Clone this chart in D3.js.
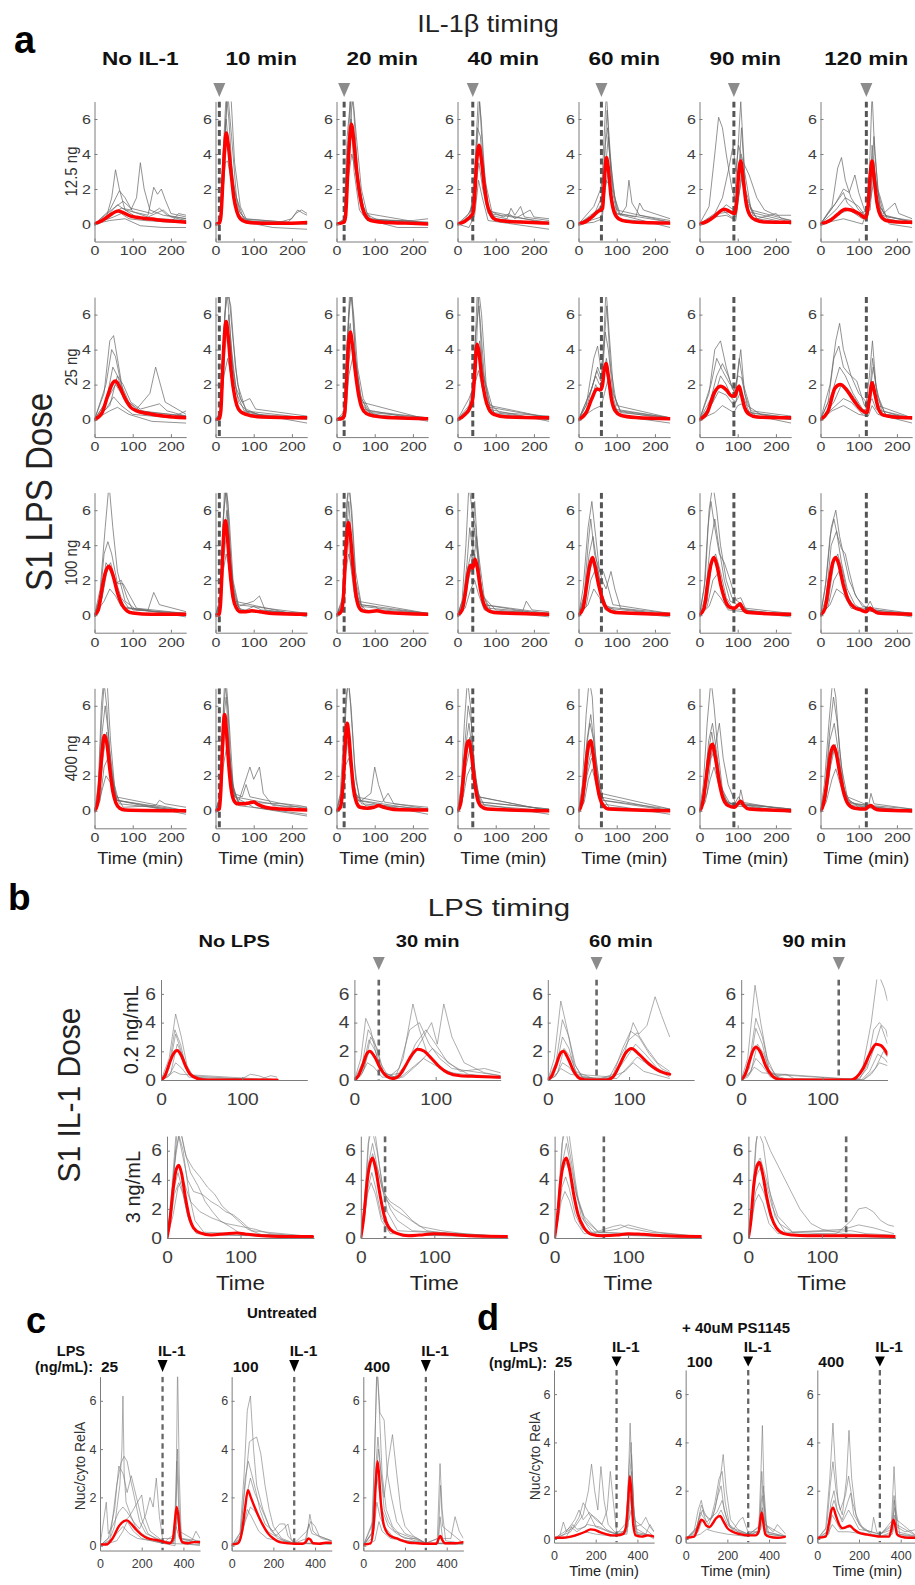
<!DOCTYPE html>
<html>
<head>
<meta charset="utf-8">
<script src="https://cdn.jsdelivr.net/npm/d3@7"></script>
<style>
  body { margin: 0; background: #fff; }
  svg { display: block; }
  text { font-family: "Liberation Sans", Arial, Helvetica, sans-serif; }
</style>
</head>
<body>
<svg id="fig" width="915" height="1585"></svg>
<script>
// ---------------- Panel a: IL-1β timing × LPS dose ----------------
const aTimings = ["No IL-1", "10 min", "20 min", "40 min", "60 min", "90 min", "120 min"];
const aIL1Times = [null, 10, 20, 40, 60, 90, 120];
const aDoses = ["12.5 ng", "25 ng", "100 ng", "400 ng"];
const aXTicks = [0, 100, 200];
const aYTicks = [0, 2, 4, 6];

// population mean traces, flat [t, v, t, v, ...] per column
const aRed125 = [
  [0,0,20,.2,40,.5,55,.7,62,.75,75,.65,95,.45,120,.35,150,.28,180,.2,210,.15,240,.1],
  [0,0,10,.05,14,.4,20,2.8,24,4.4,28,5.2,33,4.6,40,3.1,48,1.5,56,.7,65,.3,80,.12,120,.05,200,.05,240,.08],
  [0,0,20,.1,24,.5,30,3.2,35,5.0,39,5.7,45,4.8,52,3.2,60,1.8,68,.9,78,.4,90,.2,120,.1,180,.05,240,0],
  [0,0,15,.1,25,.25,35,.45,40,.6,45,1.6,50,3.5,56,4.5,62,3.8,70,2.2,78,1.1,88,.5,100,.25,130,.15,180,.1,240,.05],
  [0,0,20,.15,35,.4,50,.7,58,.8,63,.9,67,2.2,73,3.8,78,3.2,85,1.6,93,.7,105,.3,125,.15,170,.08,240,.05],
  [0,0,20,.15,40,.45,55,.75,65,.85,80,.7,92,.6,97,1.2,103,3.0,108,3.6,114,2.6,122,1.2,132,.5,145,.25,170,.12,240,.1],
  [0,0,25,.2,45,.55,65,.85,80,.8,100,.6,118,.35,124,.9,130,2.8,135,3.6,140,2.7,148,1.2,158,.45,172,.2,200,.12,240,.1]
];
const aRed25 = [
  [0,0,20,.4,35,1.4,48,2.1,55,2.2,65,1.9,80,1.2,95,.7,110,.5,140,.35,180,.2,240,.1],
  [0,0,10,.05,14,.5,19,3,24,5.0,28,5.6,33,4.8,40,3.0,48,1.6,56,.8,66,.45,80,.3,120,.15,240,.1],
  [0,0,18,.1,22,.5,27,2.5,32,4.5,36,5.0,42,4.2,50,2.6,58,1.4,66,.7,78,.35,100,.2,150,.1,240,.05],
  [0,0,20,.3,35,.8,40,1.2,45,2.6,51,4.3,56,3.9,63,2.5,72,1.3,82,.6,95,.3,130,.15,240,.1],
  [0,0,20,.4,35,1.2,48,1.75,58,1.7,63,2.0,67,2.8,72,3.2,78,2.5,86,1.2,96,.5,110,.25,150,.12,240,.05],
  [0,0,20,.4,38,1.5,55,1.9,70,1.7,85,1.35,93,1.35,98,1.7,104,1.9,110,1.4,118,.7,130,.3,150,.15,240,.1],
  [0,0,20,.5,38,1.8,52,2.0,68,1.7,90,1.0,110,.5,122,.4,128,1.2,135,2.1,142,1.5,152,.6,165,.25,190,.15,240,.1]
];
const aRed100 = [
  [0,0,10,.3,18,1.3,28,2.4,38,2.8,48,2.3,60,1.3,72,.6,85,.25,100,.12,150,.05,240,.05],
  [0,0,10,.05,13,.6,18,3.0,22,4.8,26,5.4,31,4.5,38,2.5,46,1.0,55,.4,65,.2,80,.2,95,.25,115,.2,150,.1,240,.05],
  [0,0,12,.2,18,1.0,24,3.5,28,4.8,31,5.3,36,4.6,43,2.8,50,1.3,58,.5,68,.25,85,.2,105,.25,130,.15,240,.05],
  [0,0,12,.3,20,1.2,28,2.4,34,2.85,40,2.7,46,3.2,52,2.7,60,1.5,68,.7,78,.3,95,.15,240,.05],
  [0,0,12,.4,22,1.8,30,2.9,37,3.3,44,2.7,52,1.8,60,1.1,68,.6,78,.3,95,.15,240,.05],
  [0,0,12,.4,22,1.9,30,2.9,38,3.3,46,2.8,56,1.7,68,.8,80,.45,92,.4,100,.55,106,.65,114,.35,128,.15,240,.05],
  [0,0,12,.4,22,1.8,32,3.0,40,3.3,48,2.9,60,1.7,72,.9,88,.45,105,.3,120,.2,128,.4,136,.3,150,.12,240,.05]
];
const aRed400 = [
  [0,0,8,.4,14,1.8,20,3.4,26,4.3,32,3.9,40,2.4,48,1.1,56,.45,66,.15,80,.05,240,0],
  [0,0,10,.1,14,1.2,18,3.5,21,5.0,24,5.5,28,4.7,34,2.8,40,1.4,48,.6,58,.4,72,.4,88,.45,100,.5,112,.35,130,.2,170,.1,240,.05],
  [0,0,10,.2,16,1.2,20,2.6,24,4.3,28,5.0,32,4.4,38,2.8,44,1.3,52,.5,62,.2,80,.15,98,.2,110,.3,124,.2,150,.08,240,.05],
  [0,0,8,.4,14,1.6,20,3.0,26,3.9,30,4.0,36,3.3,44,1.8,52,.7,62,.25,78,.1,240,0],
  [0,0,8,.4,15,1.6,22,3.1,28,3.9,32,4.0,38,3.3,46,1.9,55,.8,65,.3,80,.1,240,0],
  [0,0,8,.4,16,1.6,24,3.0,30,3.7,34,3.8,42,3.0,52,1.6,62,.7,75,.3,92,.2,102,.45,108,.55,116,.3,130,.1,240,0],
  [0,0,8,.4,16,1.5,26,3.2,34,3.7,40,3.4,50,2.2,60,1.1,72,.4,90,.15,118,.1,126,.25,132,.3,140,.15,155,.05,240,0]
];

// single-cell traces, one list of flat traces per column
const aGray125 = [
  [[0,0,30,.3,45,1.5,55,3.1,65,2.0,80,.8,110,.4,240,.2],
   [0,0,40,.5,70,.9,95,.8,110,1.5,120,3.5,130,2.0,145,.8,180,.5,240,.3],
   [0,0,30,.4,60,1.1,80,.8,140,.5,155,2.1,165,1.7,175,2.0,185,1.4,200,.6,240,.4],
   [0,0,40,.8,65,1.9,80,1.5,100,.7,140,.4,180,.8,200,.4,240,.2],
   [0,0,50,.4,70,.6,90,.3,130,.2,200,.1,220,.6,240,.5],
   [0,0,40,.2,80,.3,120,-.1,180,-.2,240,-.2],
   [0,0,50,.9,75,1.3,95,.9,150,.6,170,.9,190,.5,240,.3]],
  [[0,0,12,.1,20,4,28,7.5,35,6,45,2.5,60,.8,80,.2,150,0,200,.3,215,.8,230,.6,240,.5],
   [0,0,14,.2,22,3,30,7.5,40,7.5,50,3.5,65,1,80,.3,240,0],
   [0,0,12,.1,20,2,30,5,38,4,50,2,65,.6,90,.1,240,0],
   [0,0,15,.3,25,3.5,32,3.6,45,2,60,.6,80,.1,150,-.2,240,-.3],
   [0,0,12,.2,20,4,28,6,36,4,48,1.4,62,.3,190,.1,210,.6,225,.8,240,.6],
   [0,0,14,.2,24,5,32,7.5,42,5,55,1.5,75,.2,240,0]],
  [[0,0,20,.1,27,3,37,7.5,45,6.5,55,3,70,1,90,.3,240,0],
   [0,0,22,.2,32,4,42,7.5,52,5,65,2,80,.6,240,0],
   [0,0,20,.2,30,4.5,38,6,48,3.5,60,1.5,80,.3,240,.1],
   [0,0,22,.1,30,2.5,40,4,50,3,65,1,90,.2,160,-.2,240,-.2],
   [0,0,20,.3,28,5,36,7,46,3,60,.8,80,.2,200,.2,240,.3],
   [0,0,24,.3,34,5,44,5.5,55,2.5,75,.6,110,.2,240,.1]],
  [[0,0,20,.3,35,.8,45,3,55,7.5,62,6,72,2.5,90,.7,240,0],
   [0,0,30,.3,42,1.5,52,5.5,60,5,70,2,85,.5,130,.3,140,.9,150,.5,165,1.0,175,.4,240,.2],
   [0,0,30,.6,40,1.2,48,3,57,4.5,66,2.5,80,.8,120,.4,135,.6,150,.3,190,.8,200,.4,240,.3],
   [0,0,38,.3,47,2,56,3.5,66,2,80,.6,240,.1],
   [0,0,40,.4,50,4,58,7,66,4,80,1,100,.3,240,0],
   [0,0,30,-.2,45,.5,55,2.5,65,1.5,80,.2,240,-.3]],
  [[0,0,40,.5,60,1.5,67,5,73,7.5,80,5,90,2,105,.6,240,.1],
   [0,0,40,1,58,2,66,3,75,6.5,82,4,95,1.5,110,.5,125,1,132,2.5,140,1.2,160,.5,240,.2],
   [0,0,45,.6,62,1.2,70,3,78,5,88,2,100,.6,150,.4,160,1.2,170,.8,240,.3],
   [0,0,30,.2,60,.4,70,2,78,3,88,1.5,100,.3,240,0],
   [0,0,50,.8,62,1,70,4.5,76,5.5,85,3,100,.8,240,.1],
   [0,0,40,.1,62,.3,72,2.5,82,2.2,95,.6,240,-.2]],
  [[0,0,25,1,40,4,50,6.1,60,5.5,70,4,85,2,92,1.5,100,4,108,7,118,3,135,.8,240,.2],
   [0,0,40,.6,60,1.5,75,3,88,4.5,95,3,102,4.5,115,3.5,130,2.8,150,1.5,170,.8,200,.5,240,.5],
   [0,0,40,.5,70,1.1,90,.8,100,2,108,4,118,2,130,.7,240,.1],
   [0,0,50,.6,80,.7,95,.4,103,3,110,5.5,120,2,140,.5,240,0],
   [0,0,30,.3,60,.8,90,.3,102,1.5,112,2.8,125,1.2,150,.3,240,0],
   [0,0,40,.4,70,.5,95,.2,105,2,112,3.5,122,1.5,150,.3,200,.6,215,.3,240,.2]],
  [[0,0,30,1,45,3.2,55,3.8,65,2.5,80,1.5,100,.8,120,.4,128,3,135,7.5,142,4,155,1,175,.4,240,.2],
   [0,0,40,1.2,60,2,75,1.8,90,2.8,100,1.8,115,.8,125,.5,132,2.5,140,5,150,2,170,.5,240,.1],
   [0,0,40,.8,65,1.5,80,1.3,100,1.0,120,.4,130,1.5,138,3.5,148,2,165,.6,195,1.2,205,.6,240,.3],
   [0,0,50,.6,75,.8,110,.3,128,1,135,4.5,145,2.5,160,.5,240,.1],
   [0,0,50,1.5,60,1.8,70,1.2,100,.6,130,.8,137,3,150,1.2,175,.3,240,0],
   [0,0,60,.3,110,0,132,1.5,140,2.5,155,.8,180,0,240,-.2]]
];
const aGray25 = [
  [[0,0,25,1.5,40,4.5,50,4.8,60,3.5,75,1.5,100,.6,150,.4,240,.2],
   [0,0,30,2,45,4,55,3.6,70,2,90,1,120,.5,240,.2],
   [0,0,30,1,48,3,60,2.5,80,1.2,110,.6,145,1.5,160,3.0,170,2.2,185,1,240,.3],
   [0,0,35,1.2,55,2,70,1.5,90,.8,130,.3,240,.1],
   [0,0,30,.6,50,1.3,70,.8,100,.3,200,.1,240,.5],
   [0,0,40,.8,60,2.5,75,2,95,1,120,.6,170,.9,190,.5,240,.2],
   [0,0,40,.5,60,.7,90,.3,150,-.1,240,-.2]],
  [[0,0,12,.2,20,4,28,7.5,40,6.5,52,3,65,1.2,80,.6,110,.3,240,.1],
   [0,0,13,.3,22,5,30,7.5,42,4,55,1.5,75,.5,240,.1],
   [0,0,12,.1,20,3,28,5.5,38,4.5,50,2,70,1,90,1.2,105,.6,240,.2],
   [0,0,15,.5,25,4,35,6,45,3,60,1,90,.3,240,0],
   [0,0,12,.2,22,2.5,32,3.5,45,2,60,.5,240,-.2],
   [0,0,14,.4,24,6,34,7.5,44,5,58,2,80,.5,130,.2,240,.1]],
  [[0,0,20,.2,27,4,35,7.5,45,6,55,3,70,1.2,90,.4,240,.1],
   [0,0,22,.3,30,5,38,7.5,48,4,60,1.5,80,.5,240,.1],
   [0,0,22,.2,30,3,40,4.5,52,3,65,1.2,90,.3,240,0],
   [0,0,20,.3,28,4.5,36,5.5,46,3,62,1,85,.4,120,.2,240,.1],
   [0,0,24,.2,32,2.5,42,3.5,55,2,70,.6,240,-.1],
   [0,0,22,.5,32,6,40,7.5,50,3.5,65,1,240,0]],
  [[0,0,25,.5,38,1.2,45,3.5,52,7.5,60,5.5,70,2.5,85,.8,240,.1],
   [0,0,30,.8,40,2,48,5,56,6.5,65,3,80,1,110,.4,240,.2],
   [0,0,30,.4,42,1.5,50,3.5,58,4.5,68,2.5,85,.7,240,.1],
   [0,0,35,.6,45,2.5,52,4,60,3,75,1,100,.3,240,0],
   [0,0,30,1.2,45,2.0,55,2.8,65,1.8,80,.6,240,-.1],
   [0,0,40,.8,48,3,55,7.5,63,6,75,2,95,.4,240,0]],
  [[0,0,20,.8,40,3.5,50,4.2,58,3,64,3.5,72,7.5,80,5,92,1.5,110,.4,240,.1],
   [0,0,30,1.5,45,2.5,55,2,62,2.2,70,5,78,4,90,1.5,110,.5,240,.1],
   [0,0,30,.8,45,2,55,1.6,65,2.5,73,3.5,85,1.8,100,.5,240,0],
   [0,0,25,1,40,2.2,50,3,60,2.4,70,3,80,2,95,.6,240,.1],
   [0,0,40,.6,60,.8,68,1.5,76,2.2,88,1,110,.2,240,-.2],
   [0,0,35,1.8,48,2.8,58,2.2,66,4,74,6.5,84,3,100,.8,240,.1]],
  [[0,0,25,1.5,40,4,55,4.5,70,3,85,1.8,95,1.5,102,3,108,4,118,1.5,135,.4,240,.1],
   [0,0,30,1.2,45,2.5,60,3.2,75,2.5,90,1.6,100,2.5,110,2.4,125,.8,160,.3,240,.1],
   [0,0,35,1,55,2.5,70,2,85,1.2,95,1,104,2,112,1.5,130,.4,240,0],
   [0,0,30,.8,50,1.6,70,1.4,90,.8,100,1.2,108,1.6,120,.6,150,.2,240,0],
   [0,0,40,.4,60,.8,90,.4,100,.8,110,.9,130,.3,240,-.2],
   [0,0,30,2,45,3.5,60,2.8,80,2.0,95,1.8,104,3.5,115,2,135,.5,240,.2]],
  [[0,0,25,2,40,4.5,50,5.5,60,4,80,2.5,100,1.5,120,1,128,2.5,136,4.5,145,2,160,.5,240,.1],
   [0,0,30,1.5,50,3,65,2.5,85,1.5,110,.6,125,.5,132,2,138,3,150,1.2,170,.3,240,.1],
   [0,0,35,1,55,2,70,1.8,90,1.2,115,.3,130,1,138,2.2,150,.8,240,.1],
   [0,0,40,.8,60,1.2,80,1,110,.3,135,1.2,145,.6,240,0],
   [0,0,30,.5,60,.8,100,.3,125,.2,135,.8,150,.3,240,-.2],
   [0,0,20,1,35,3.5,48,4.2,60,3,75,2.6,95,2.2,115,.8,128,1.2,136,3.5,148,1.5,170,.3,240,.1]]
];
const aGray100 = [
  [[0,0,15,1.5,28,5,38,7.5,48,5,60,2.5,80,.8,110,.3,240,.1],
   [0,0,15,1,25,3.5,35,4.2,45,3.5,60,1.8,75,1.8,90,1.2,110,.4,240,.1],
   [0,0,18,.8,30,2.5,42,3,55,2,70,1,90,.4,140,.3,155,1.3,170,.6,240,.2],
   [0,0,20,1,35,2.8,48,2.2,62,1.2,80,.4,240,0],
   [0,0,25,.8,40,1.5,55,1.1,70,.5,240,-.1],
   [0,0,20,1.5,30,3,45,2.5,55,1.8,70,2,85,1,100,.3,240,.1]],
  [[0,0,12,.5,18,4,24,7.5,32,6.5,40,3,50,1,65,.3,240,.1],
   [0,0,13,1,20,5.5,27,7,34,5,45,1.8,60,.5,100,.8,115,1.1,130,.3,240,0],
   [0,0,12,.4,20,3,28,4.5,36,3.5,46,1.5,60,.4,90,.2,240,.1],
   [0,0,14,1,22,4.5,30,6,38,3.5,50,.8,70,.2,100,.5,120,.3,240,0],
   [0,0,12,.3,20,2.5,28,3.5,38,2.5,50,.8,240,-.1],
   [0,0,14,.8,22,6,28,7.5,36,5.5,46,2,60,.6,240,.1]],
  [[0,0,15,.8,20,2.5,27,6.5,33,7.5,40,5.5,50,2,65,.5,240,.1],
   [0,0,15,.5,22,3,30,5.5,38,4.5,48,2,60,.6,100,.5,115,.3,240,.1],
   [0,0,18,.4,25,4,32,6.5,40,4,52,1.2,70,.3,240,0],
   [0,0,15,.3,24,2.5,32,3.5,42,2.5,55,.8,240,.1],
   [0,0,14,.6,22,3.5,28,5,36,3,48,1,80,.2,130,.2,240,0],
   [0,0,16,1,24,5,32,7.5,40,6,50,2.5,65,.6,240,.1]],
  [[0,0,15,1,25,3,32,5,38,4,45,6.5,52,4,62,1.5,80,.4,240,.1],
   [0,0,15,.8,25,2.5,35,3.5,42,3,50,4.5,58,3,70,1,100,.3,240,0],
   [0,0,18,.5,28,2,38,2.8,45,3.5,55,2,68,.6,240,0],
   [0,0,12,.8,22,4,30,7.5,38,6,48,5,56,2.5,70,.6,240,.1],
   [0,0,20,.4,35,1.5,45,2,55,1.2,70,.3,240,-.1],
   [0,0,15,.6,28,2.8,36,2.5,44,5,52,3.5,65,1.2,90,.2,170,.2,180,.8,195,.3,240,.2]],
  [[0,0,12,1.5,25,5,35,6.5,45,4.5,55,2.5,65,2.5,75,1.8,90,.6,240,.1],
   [0,0,15,1,28,3.5,38,4.5,48,3,58,1.5,70,.6,100,.2,240,0],
   [0,0,15,.8,28,2.5,40,3.2,52,2.5,62,1.2,75,.4,240,0],
   [0,0,20,.5,32,2,42,2.5,55,1.5,68,.5,240,0],
   [0,0,15,1.2,25,4,32,5.5,42,3.5,52,2.8,62,2,72,1.5,85,2.5,95,1.5,110,.4,240,.1],
   [0,0,25,.6,40,1.5,55,1,70,.3,240,-.1]],
  [[0,0,15,2,25,6,35,7.5,45,6,55,4,70,2,85,1,100,.8,110,.6,130,.2,240,.1],
   [0,0,15,1,28,4,40,5.5,50,4,65,2,80,.8,100,.6,120,.2,240,0],
   [0,0,20,.8,32,3,42,3.5,55,2.5,70,1,90,.3,104,.7,115,.3,240,0],
   [0,0,20,.5,35,2,48,2.4,62,1.2,80,.4,240,0],
   [0,0,12,1.5,22,5,30,6.5,40,5,52,3.5,65,3,80,2,95,.9,108,1,120,.4,240,.1],
   [0,0,25,.5,40,1.4,55,1,75,.3,240,-.1]],
  [[0,0,15,2,28,5,40,6,50,4.5,60,3.5,75,2,95,1,120,.4,130,.8,140,.3,240,.1],
   [0,0,15,1,28,4,42,4.8,55,3,70,1.5,90,.6,118,.2,130,.5,145,.2,240,0],
   [0,0,20,.8,35,3,45,3.5,58,2.5,72,1,95,.3,240,0],
   [0,0,20,.5,35,2,48,2.5,62,1.5,80,.5,240,0],
   [0,0,12,1.5,25,4.5,35,5.5,45,4.5,55,3.8,65,3.5,75,2.5,90,1.2,110,.5,240,.1],
   [0,0,25,.6,42,1.5,60,1.2,80,.4,240,-.1]]
];
const aGray400 = [
  [[0,0,10,1,18,5,26,7.5,34,7,42,4,52,1.5,65,.4,240,0],
   [0,0,12,1,20,4.5,28,6,36,4.5,46,2,58,.6,240,0],
   [0,0,12,.5,22,3,32,4.5,42,3,55,1,75,.2,160,.3,170,.6,185,.4,240,.2],
   [0,0,15,.6,25,2.5,35,3,45,2,58,.6,240,-.2],
   [0,0,10,1.5,18,6,24,7.5,32,6,42,2.5,55,.8,240,0],
   [0,0,15,.8,30,2,45,1.5,60,.6,240,-.1]],
  [[0,0,12,.5,18,4.5,24,7.5,32,6,40,2.5,50,.8,240,0],
   [0,0,14,1,20,5,28,6.5,36,3.5,46,1.2,60,.5,90,2.5,100,1.8,115,2.5,125,1,150,.3,240,.2],
   [0,0,12,.4,20,3.5,28,5,36,3,48,1,70,.8,80,1.5,90,.8,240,.1],
   [0,0,14,.8,22,6,28,7.5,36,5,46,1.5,60,.3,240,-.2],
   [0,0,12,.3,20,2.5,28,3.5,38,2.5,50,.8,100,.2,240,-.3],
   [0,0,12,.8,20,4,26,5.5,34,4,44,1.5,60,.5,180,.4,220,.3,240,.2]],
  [[0,0,12,.5,18,2,24,5.5,30,7.5,38,6,48,2.5,60,.6,240,0],
   [0,0,12,.8,20,3.5,28,5,36,3.5,46,1.2,60,.5,90,1,100,2.5,110,1.5,125,.5,240,.1],
   [0,0,14,.4,22,3,30,4.5,38,3,50,1,75,.3,240,0],
   [0,0,10,1,18,4,25,6.5,32,7.5,40,5,50,1.8,65,.4,240,.1],
   [0,0,12,.3,22,2.5,32,3,42,2,55,.6,240,-.2],
   [0,0,12,1,20,2.5,28,4,36,2.5,50,.8,120,.5,135,1,150,.4,240,.2]],
  [[0,0,10,1.5,18,5,26,7.5,34,6,42,3,55,.8,240,0],
   [0,0,12,1,20,3.5,30,5,38,3.5,48,1.5,60,.5,240,.1],
   [0,0,12,.5,22,2.5,32,3.5,42,2.5,55,.8,240,0],
   [0,0,15,.8,25,2,35,2.5,45,1.5,60,.4,240,-.2],
   [0,0,10,1,20,4,28,6,36,5,46,2,60,.5,240,.1],
   [0,0,12,.6,22,3,32,4.2,40,3.5,50,1.2,70,.3,240,0]],
  [[0,0,10,1.5,20,5.5,28,7.5,36,6.5,45,3,58,1,240,.1],
   [0,0,12,1,22,4,32,5.5,40,4,50,1.8,62,.6,240,0],
   [0,0,12,.6,24,2.5,34,3.5,44,2.5,56,.8,240,0],
   [0,0,15,.5,26,1.8,36,2.4,46,1.5,60,.4,240,-.2],
   [0,0,10,1,20,3.5,30,5,40,4,52,2,65,.6,240,.1],
   [0,0,12,.4,22,2,34,3,44,2.5,56,1,80,.2,240,0]],
  [[0,0,10,1.5,20,5,30,7.5,38,6,48,3.5,60,1.2,80,.4,240,.1],
   [0,0,12,1,24,4,34,5,44,3.5,56,1.5,70,.6,90,.3,102,.8,110,.5,240,0],
   [0,0,12,.6,24,2.5,34,3.5,44,2.5,58,.9,80,.3,240,0],
   [0,0,15,.5,28,1.8,38,2.5,50,1.5,65,.5,240,-.1],
   [0,0,20,1,30,3,40,3.5,52,5,62,3,75,1.5,95,.4,240,.1],
   [0,0,10,.8,22,3.2,32,4.5,42,3,55,1.2,75,.4,102,.4,108,1.2,116,.4,240,.1]],
  [[0,0,10,1.5,22,5,32,7.5,40,6.5,50,3.5,62,1.2,80,.4,240,.1],
   [0,0,12,1,24,4,36,5,46,3.5,58,1.6,72,.6,100,.3,240,0],
   [0,0,12,.6,26,2.5,36,3.5,48,2.5,60,.9,80,.3,240,0],
   [0,0,15,.5,30,1.8,40,2.4,52,1.5,68,.5,240,-.1],
   [0,0,12,1.2,24,4.5,34,6.5,44,5,55,2.5,70,.8,126,.3,132,1,140,.4,240,.1],
   [0,0,15,.8,28,3,38,3.8,50,2.5,65,.8,100,.2,240,0]]
];

// ---------------- Panel b: LPS timing × IL-1 dose ----------------
const bTimings = ["No LPS", "30 min", "60 min", "90 min"];
const bDoses = ["0.2 ng/mL", "3 ng/mL"];
const bLPSTimes02 = [null, 30, 60, 120];
const bLPSTimes3 = [null, 33, 67, 133];
const bXTicks = [0, 100];
const bYTicks = [0, 2, 4, 6];

const bRed02 = [
  [0,0,5,.3,10,1.1,15,1.8,20,2.05,25,1.7,30,1.0,36,.4,45,.1,55,0,143,0],
  [0,0,5,.3,10,1.0,15,1.8,19,2.0,25,1.6,32,.8,40,.25,48,.1,55,.3,62,.9,70,1.7,78,2.15,86,2.0,95,1.5,105,.9,115,.5,130,.3,150,.25,180,.2],
  [0,0,5,.3,10,1.0,15,1.8,19,2.0,25,1.5,32,.6,40,.1,50,0,72,0,80,.2,88,1.0,96,1.9,103,2.2,112,1.8,125,1.1,138,.6,150,.4],
  [0,0,5,.4,10,1.3,15,2.1,18,2.3,24,1.9,30,1.0,38,.3,46,.05,55,0,135,0,142,.2,150,.8,158,1.8,166,2.5,172,2.4,180,1.8]
];
const bRed3 = [
  [0,0,4,1.2,8,3.2,12,4.6,16,5.0,20,4.4,25,2.8,30,1.5,36,.7,45,.35,60,.2,80,.3,95,.35,110,.25,130,.15,160,.1,198,.1],
  [0,0,4,1.4,8,3.6,12,5.0,16,5.5,20,4.8,26,3,32,1.5,40,.6,50,.3,65,.15,80,.2,100,.3,120,.25,150,.15,200,.1],
  [0,0,4,1.5,8,3.8,12,5.1,16,5.5,20,4.8,26,3,32,1.6,40,.7,50,.25,65,.15,85,.2,100,.3,120,.25,150,.15,200,.1],
  [0,0,3,1,7,3.5,11,4.8,15,5.2,19,4.5,25,2.8,31,1.5,38,.7,48,.3,60,.2,80,.15,120,.15,160,.15,200,.1]
];
const bGray02 = [
  [[0,0,10,1.5,18,4.6,25,3,32,1,40,.2,60,0,143,0],
   [0,0,10,1,17,3.5,24,2.5,32,.6,45,.1,143,0],
   [0,0,10,.8,18,3.2,26,1.8,34,.4,60,0,100,.1,110,.4,120,.3,130,.1,143,0],
   [0,0,12,.5,20,2.5,28,1.5,36,.3,120,0,135,.3,143,.2],
   [0,0,10,.3,18,1.2,26,.8,34,.2,143,0],
   [0,0,8,.2,16,.6,24,.4,143,0]],
  [[0,0,8,1.5,14,4.3,20,3.5,28,1.5,38,.3,50,.2,60,1.5,72,5.3,80,3.5,90,1.8,105,.8,130,.3,180,.2],
   [0,0,10,1.2,17,3.5,24,2.8,32,1.2,42,.2,55,.8,68,3.5,80,4,92,2.5,105,1.5,120,.8,180,.3],
   [0,0,10,.8,18,2.8,26,2,34,.6,50,.2,70,1.5,85,3,95,4,102,2.5,110,5.3,120,3,135,1.2,160,.5,180,.3],
   [0,0,10,.5,18,2,26,1.5,36,.3,60,.5,75,2.5,88,3.5,100,2.5,115,1.2,140,.4,180,.2],
   [0,0,12,.8,20,3,28,2.2,36,.5,55,.1,70,.8,85,1.5,100,1,120,.5,180,.1],
   [0,0,8,.3,16,1.2,24,.9,34,.2,60,.2,80,1.2,96,2.2,110,1.5,130,.6,160,.8,180,.5]],
  [[0,0,8,1.5,16,5.5,24,3.5,32,1.2,42,.2,60,0,80,.3,92,2.2,102,3.4,112,3,125,1.8,140,.8,150,.5],
   [0,0,10,1.2,18,4.2,26,3,34,1,44,.1,75,.1,88,1.5,100,2.8,110,3.3,122,2.2,135,1.2,150,.6],
   [0,0,10,.8,18,3,26,2.2,34,.6,60,0,85,.5,95,2,105,4,112,3.2,122,3.8,132,5.8,140,4.5,150,3],
   [0,0,12,.5,20,2.2,28,1.6,36,.4,80,.2,96,1.5,108,2.5,120,1.8,135,.8,150,.4],
   [0,0,10,.3,18,1.2,26,.9,36,.2,85,.1,100,1,110,1.6,125,1,150,.2],
   [0,0,8,.2,16,.8,28,.4,70,0,95,.6,105,1.2,118,.6,150,.1]],
  [[0,0,8,1.5,17,6.6,24,4,32,1.5,42,.3,60,0,140,0,150,1,160,4,168,7.5,176,6.4,180,5.5],
   [0,0,10,1.2,18,4.3,26,3,34,1,46,.1,145,0,155,1,163,3.5,170,4,178,3.5,180,3],
   [0,0,10,.8,18,3.6,26,2.5,34,.7,50,0,145,.1,155,.8,165,2.5,172,3.8,180,2.5],
   [0,0,12,.6,20,2.5,28,1.8,36,.4,148,0,158,.6,168,1.8,176,1.5,180,1.2],
   [0,0,10,.4,18,1.5,26,1,36,.2,55,.4,65,.1,150,0,160,.4,170,1.2,180,1],
   [0,0,8,.2,16,.9,26,.5,150,0,165,.8,175,2,180,1.6]]
];
const bGray3 = [
  [[0,0,6,3,12,7,18,7.5,26,5.6,35,4.8,45,4.2,55,3.5,65,3,75,2.2,90,1.5,110,.6,130,.2,198,.1],
   [0,0,6,2.5,12,6,18,7.5,24,6,32,4.5,42,3.6,52,2.5,62,1.8,72,1.2,85,.8,100,.3,198,.1],
   [0,0,5,2,10,5,16,7,22,5.5,28,4,36,3.2,48,3,60,2.5,70,2.2,80,1.8,90,1.6,100,1.2,115,.5,198,.1],
   [0,0,5,1.5,10,3.5,15,4.5,20,3.5,28,1.5,38,.5,60,.2,198,.1],
   [0,0,4,1,10,3,16,3.8,22,3,30,1.2,40,.3,200,0],
   [0,0,6,2.2,14,7.5,22,6,30,3,38,1.2,50,.4,198,.1],
   [0,0,8,1.5,15,3.5,22,4,32,2.5,45,1.8,60,1.4,80,1,100,.8,120,.6,140,.3,198,.1]],
  [[0,0,5,2.5,10,6.5,15,7.5,22,6,30,3.5,40,2,50,1.2,70,.5,198,.1],
   [0,0,5,2,10,5,16,6.5,22,5,30,3.2,40,2.5,55,2,70,1.2,90,.5,120,.3,198,.1],
   [0,0,4,1.5,10,4.5,16,5.8,24,4.5,32,2.8,45,2,60,1.5,80,.8,110,.5,140,.3,198,.1],
   [0,0,5,1.5,10,3.5,15,4.5,20,3.5,28,1.5,38,.5,60,.2,198,.1],
   [0,0,4,1,9,3,14,3.8,20,3,28,1.2,40,.3,200,0],
   [0,0,6,3,12,7.5,20,7,28,4,36,1.8,50,.5,198,.1]],
  [[0,0,5,2.5,10,6.5,15,7.5,22,5.5,30,3,40,1.2,55,.4,80,.8,90,.9,100,.7,130,.4,198,.1],
   [0,0,5,2,10,5,16,6.5,22,5,30,3,40,1.5,60,.4,198,.1],
   [0,0,4,1.5,10,4.5,16,5.2,24,4,32,2.5,42,1.2,60,.4,85,.6,100,.9,115,.7,140,.4,198,.1],
   [0,0,5,1.5,10,3.5,15,4.2,20,3.4,28,1.6,38,.6,60,.2,198,.1],
   [0,0,4,1,9,2.5,14,3.2,20,2.6,28,1.2,40,.3,200,0],
   [0,0,6,3,12,7.5,20,7,28,4,36,1.5,50,.4,198,.1]],
  [[0,0,5,2.5,10,6.5,15,7.5,22,7,30,6,40,5,55,3.5,70,2,85,1,100,.6,130,.3,198,.1],
   [0,0,5,2,10,5,16,5.5,22,4.5,30,3,40,1.5,60,.4,130,.6,150,.9,170,.7,198,.3],
   [0,0,4,1.5,10,4.2,16,4.8,24,3.8,32,2.2,42,1,60,.4,140,.5,160,.3,198,.2],
   [0,0,5,1.5,10,3.2,15,3.8,22,3,30,1.4,40,.5,60,.2,120,.3,140,1.2,150,2,160,2.1,170,1.8,180,1.2,190,.9,198,.8],
   [0,0,4,1,9,2.5,14,3,20,2.4,28,1,40,.3,200,0],
   [0,0,6,3,12,7.5,20,6.5,28,3.5,36,1.5,50,.4,198,.1]]
];

// ---------------- Panels c and d: LPS dose, IL-1 at 300 min ----------------
const cdDoses = ["25", "100", "400"];
const cdIL1Time = 300;
const cdXTicks = [0, 200, 400];
const cdYTicks = [0, 2, 4, 6];

const cRed = [
  [0,.05,30,.05,60,.3,90,.8,115,1.02,130,1.05,150,.9,175,.65,200,.45,230,.3,260,.25,290,.2,310,.15,335,.1,350,.3,360,1.1,368,1.6,376,1.2,384,.4,395,.15,420,.1,450,.15,480,.15],
  [0,.05,30,.1,50,.6,65,1.6,78,2.3,92,2.0,110,1.6,130,1.2,150,.85,175,.5,200,.3,230,.15,270,.1,300,.08,340,.08,355,.15,368,.3,378,.25,390,.1,420,.08,450,.12,480,.12],
  [0,.05,35,.1,50,.9,60,2.6,68,3.5,75,3.0,84,1.8,95,1.0,110,.6,130,.4,160,.3,190,.2,220,.12,260,.1,300,.08,350,.08,362,.3,370,.4,378,.25,392,.1,430,.1,480,.15]
];
const cGray = [
  [[0,0,40,.1,70,.8,95,2.5,105,4,110,6.2,116,3,125,1.8,150,1.2,170,.8,200,.5,240,.3,300,.1,355,.2,365,2,372,7.5,380,3,390,.3,480,.2],
   [0,0,50,.4,80,2.5,100,3.4,115,3.7,130,3.5,150,2.6,170,1.8,190,1,220,.5,300,.2,355,.1,368,3.5,378,1.5,390,.2,480,.1],
   [0,0,40,.3,70,1.5,90,3.3,110,3.0,130,2.2,150,2.9,175,2,200,1.1,230,.5,300,.1,360,.5,370,1.5,380,.6,480,.1],
   [0,0,30,1.8,40,.5,60,.8,90,1.4,110,1.6,130,1.4,160,1,190,.7,220,1.3,240,2,255,1.6,270,2.8,285,1.2,300,.3,360,.3,370,1.2,385,.3,440,.2,460,.6,480,.3],
   [0,0,60,.3,100,.9,140,1.2,180,1.8,200,2.1,215,1.2,240,.6,300,.2,350,.1,365,.8,380,.3,480,.1],
   [0,0,80,.2,110,.6,130,1,160,.6,200,.3,300,.1,480,.05],
   [0,0,50,.2,80,.5,110,.8,140,.5,180,.3,250,.2,300,.1,360,0,372,4,380,1.5,392,.1,480,0]],
  [[0,0,40,.5,60,3,75,5.6,90,6.2,105,4,120,2.5,150,1.5,180,.8,220,.3,300,.1,480,.1],
   [0,0,40,.3,65,2.5,85,4.3,100,4.4,120,4.5,140,3.8,160,2.5,180,1.5,200,.8,240,.3,300,.1,360,.3,375,1.3,390,.6,430,.3,480,.2],
   [0,0,45,.6,65,2.8,80,3.5,95,3,115,2.3,135,1.5,160,.9,200,.6,230,.9,255,.9,270,.4,300,.1,480,.1],
   [0,0,45,.3,70,2,90,2.8,110,2.2,130,1.8,160,1.2,190,.6,250,.2,300,.1,350,.1,370,.9,385,.5,480,.2],
   [0,0,50,.5,75,1.5,95,1.2,130,.6,170,.3,300,.1,480,.05],
   [0,0,40,.2,65,1,90,1.6,115,1.4,140,1,170,.6,210,.4,250,.7,270,.9,285,.3,300,.1,360,.6,380,1,400,.8,420,.4,480,.2]],
  [[0,0,40,.5,55,4,65,7.5,75,6,90,3,110,1.5,140,.8,180,.4,250,.2,300,.1,480,.1],
   [0,0,45,1,58,5,66,7.5,80,5.5,100,5.2,115,3,135,2,160,1,200,.5,260,.3,300,.1,355,.3,368,3.4,378,1.5,395,.2,480,.1],
   [0,0,40,.3,58,3,70,4.5,85,3,100,2,120,3.5,140,4.6,160,3,180,1.5,200,.8,240,.4,300,.1,360,.3,370,2.5,380,.8,480,.1],
   [0,0,50,1,62,3,72,2.5,90,1.5,120,.8,160,.5,200,.3,250,.3,300,.1,480,.1],
   [0,0,50,.6,65,1.8,80,1.2,100,.8,140,.4,200,.2,300,.1,360,.1,368,1.2,380,.3,420,.3,440,1.2,460,.6,480,.3],
   [0,0,45,.6,60,2.5,72,4,85,3,100,1.5,120,1,150,.6,300,.1,480,.1],
   [0,0,55,.2,75,1,90,.6,130,.3,300,.1,480,.05]]
];
const dRed = [
  [0,.05,40,.05,80,.1,120,.2,150,.3,175,.4,195,.38,220,.28,250,.2,280,.15,305,.15,330,.2,345,.5,355,1.5,364,2.6,372,1.8,380,.6,392,.15,420,.1,450,.15,480,.1],
  [0,.05,40,.1,60,.5,75,.8,85,.75,100,.55,115,.5,130,.65,145,.85,165,.95,180,.75,200,.45,225,.3,260,.2,300,.15,335,.15,350,.3,358,.8,365,1.1,372,.7,382,.2,400,.1,440,.05,480,.1],
  [0,.05,40,.1,55,.6,68,1.2,76,1.3,88,1.0,105,.6,120,.45,140,.5,155,.55,175,.4,200,.25,240,.18,280,.12,300,.1,345,.1,355,.4,365,.8,373,.6,382,.2,400,.1,440,.05,480,.05]
];
const dGray = [
  [[0,0,30,.2,45,.7,60,.3,100,.5,140,1,165,2,180,3.1,195,2,210,1.2,225,3.0,240,1.6,260,.6,300,.2,340,.2,355,2,365,4.8,375,2.5,390,.3,480,.1],
   [0,0,50,.2,100,.8,120,1.2,140,.8,170,1.1,200,.8,230,.6,255,1.2,270,2.8,285,1.5,300,.3,345,.3,360,3,370,4,380,1.5,395,.2,480,.1],
   [0,0,60,.1,90,.6,110,.4,150,.5,180,1,210,.8,250,.4,300,.2,350,.3,362,2.5,372,3.5,382,1.2,400,.2,440,.2,460,.6,480,.3],
   [0,0,80,.3,120,.9,140,1.5,160,1.2,200,.5,300,.2,350,.2,362,1.8,372,2.8,385,.8,480,.1],
   [0,0,100,.1,150,.3,200,.2,300,.1,355,.5,368,1.8,380,.5,480,0],
   [0,0,50,.3,80,.5,110,.3,160,.6,220,.5,260,.3,300,.2,360,.8,370,1.2,385,.5,420,.6,440,.9,460,.5,480,.3]],
  [[0,0,40,.3,60,1.2,75,1.6,90,1,120,.8,140,1.5,160,2.5,175,2.8,190,1.5,210,.6,250,.3,300,.2,350,.3,360,2.5,368,4.7,376,2,390,.3,480,.1],
   [0,0,50,.4,70,1.1,85,.9,110,.6,140,1.2,165,2.4,180,3.5,195,2,215,.8,250,.4,300,.2,355,.5,365,2.8,375,1.5,390,.2,480,.1],
   [0,0,45,.3,65,.8,80,1.2,100,.7,130,.9,155,1.8,170,2.2,185,1.2,210,.5,300,.2,350,.2,362,1.5,372,2.2,382,.8,400,.2,480,.1],
   [0,0,60,.3,80,.8,110,.4,150,.9,170,1.2,200,.6,230,.4,260,.8,275,.9,290,.5,300,.3,355,.3,368,1.3,380,.6,420,.3,440,.6,480,.2],
   [0,0,70,.2,100,.4,140,.3,200,.2,300,.1,360,.4,372,.9,385,.3,480,.1],
   [0,0,55,.5,75,1.4,90,1.1,110,.8,150,1.1,175,1.6,195,.9,220,.4,300,.15,360,.6,370,1.8,380,.6,480,.1]],
  [[0,0,40,.4,60,2.5,75,4.8,85,3.2,100,1.5,120,1,140,2.5,152,4.5,165,2.5,185,1,220,.4,300,.2,355,.5,368,3,378,1.2,395,.2,480,.1],
   [0,0,45,.5,62,2.2,75,3.2,90,2,110,1.2,135,1.8,150,2.6,170,1.5,200,.6,250,.3,300,.2,358,.6,368,1.8,380,.8,480,.1],
   [0,0,50,.3,65,1.5,80,2,95,1.2,120,.7,150,1.2,170,.9,200,.4,260,.3,270,.9,285,.3,300,.2,360,.4,370,1.6,380,.6,480,.1],
   [0,0,55,.2,70,1,85,.8,110,.4,160,.5,200,.3,300,.1,360,.3,372,1,385,.3,480,.1],
   [0,0,50,.2,72,.6,100,.3,150,.3,300,.1,360,.2,370,.6,385,.2,480,.05],
   [0,0,45,.3,65,1.2,80,1.6,95,1.2,120,.8,145,1.5,160,1.9,175,1,210,.5,260,.2,300,.15,362,.8,372,1.3,382,.5,420,.3,480,.4]]
];

// ---------------- drawing ----------------
const svg = d3.select("#fig");
const pairs = a => d3.range(0, a.length, 2).map(i => [a[i], a[i + 1]]);
let clipN = 0;

const styleA = {gray: "#6a6a6a", grayOp: .72, grayW: 1, dash: "#555", dashW: 3, dashArr: "6,3.5", redW: 3.5,
                tickSize: 12.5, tickSx: 1.28, xpad: 5, ypad: 3.5};
const styleB = {gray: "#7a7a7a", grayOp: .68, grayW: .9, dash: "#666", dashW: 2.6, dashArr: "6,4", redW: 3,
                tickSize: 16, tickSx: 1.2, xpad: 13.5, ypad: 5};
const styleCD = {gray: "#7a7a7a", grayOp: .68, grayW: .9, dash: "#666", dashW: 2.3, dashArr: "5.5,4", redW: 2.4,
                 tickSize: 12.5, tickSx: 1, xpad: 8.5, ypad: 3.5};

function plot(o) {
  const st = o.st;
  const x = d3.scaleLinear().domain(o.xd).range([o.left, o.left + o.w]);
  const y = d3.scaleLinear().domain(o.yd).range([o.bottom, o.top]);
  const id = "clip" + (clipN++);
  svg.append("clipPath").attr("id", id).append("rect")
    .attr("x", o.left).attr("y", o.top).attr("width", o.w).attr("height", o.bottom - o.top);
  const g = svg.append("g").attr("clip-path", `url(#${id})`);
  const grayLine = d3.line().x(d => x(d[0])).y(d => y(d[1]));
  g.selectAll("path.cell").data(o.gray).join("path").attr("class", "cell")
    .attr("d", d => grayLine(pairs(d)))
    .attr("fill", "none").attr("stroke", st.gray).attr("stroke-opacity", st.grayOp)
    .attr("stroke-width", st.grayW).attr("stroke-linejoin", "round");
  if (o.stim != null) {
    g.append("line").attr("x1", x(o.stim)).attr("x2", x(o.stim)).attr("y1", o.top).attr("y2", o.bottom)
      .attr("stroke", st.dash).attr("stroke-width", st.dashW).attr("stroke-dasharray", st.dashArr);
  }
  const meanLine = d3.line().curve(d3.curveMonotoneX).x(d => x(d[0])).y(d => y(d[1]));
  g.append("path").attr("d", meanLine(pairs(o.red)))
    .attr("fill", "none").attr("stroke", "#f00").attr("stroke-width", st.redW)
    .attr("stroke-linejoin", "round").attr("stroke-linecap", "round");

  const axX = svg.append("g").attr("transform", `translate(0,${o.bottom})`)
    .call(d3.axisBottom(x).tickValues(o.xt).tickFormat(d3.format("d"))
      .tickSizeInner(-3).tickSizeOuter(0).tickPadding(st.xpad));
  const axY = svg.append("g").attr("transform", `translate(${o.left},0)`)
    .call(d3.axisLeft(y).tickValues(o.yt).tickFormat(d3.format("d"))
      .tickSizeInner(-3).tickSizeOuter(0).tickPadding(st.ypad));
  for (const ax of [axX, axY]) {
    ax.attr("font-family", null).attr("font-size", st.tickSize);
    ax.select(".domain").attr("stroke", "#7d7d7d");
    ax.selectAll(".tick line").attr("stroke", "#7d7d7d");
    ax.selectAll(".tick text").attr("fill", "#3c3c3c").each(function () {
      const t = d3.select(this);
      const xv = +t.attr("x") || 0;
      t.attr("x", xv / st.tickSx).attr("transform", `scale(${st.tickSx},1)`);
    });
  }
  return {x, y};
}

function label(x, y, s, o) {
  const t = svg.append("text")
    .attr("transform", `translate(${x},${y}) scale(${o.sx || 1},1)` + (o.rot ? " rotate(-90)" : ""))
    .attr("text-anchor", o.anchor || "middle")
    .attr("font-size", o.size)
    .attr("font-weight", o.bold ? "bold" : "normal")
    .attr("fill", o.fill || "#111")
    .text(s);
  if (o.rot) t.attr("dy", "0.35em");
  return t;
}

function marker(cx, top, tip, w, fill) {
  svg.append("path")
    .attr("d", d3.line()([[cx - w / 2, top], [cx + w / 2, top], [cx, tip]]) + "Z")
    .attr("fill", fill);
}

// ---- panel a ----
label(14, 53, "a", {size: 38, bold: true, anchor: "start", fill: "#000"});
label(488, 32, "IL-1β timing", {size: 23.5, sx: 1.15, fill: "#222"});
label(39, 492, "S1 LPS Dose", {size: 33, sx: 1.12, rot: true, fill: "#222"});

const aRows = [[aRed125, aGray125], [aRed25, aGray25], [aRed100, aGray100], [aRed400, aGray400]];
aRows.forEach(([red, gray], r) => {
  const y0 = 224 + r * 195.6;
  const top = y0 - 7 * 17.5, bottom = y0 + 17.5;
  aTimings.forEach((head, c) => {
    const left = 94.5 + c * 121;
    const p = plot({left, w: 91.7, top, bottom, xd: [0, 240], yd: [-1, 7], xt: aXTicks, yt: aYTicks,
                    gray: gray[c], red: red[c], stim: aIL1Times[c], st: styleA});
    if (r === 0) {
      label(left + 45.8, 65, head, {size: 18.5, bold: true, sx: 1.22, fill: "#111"});
      if (aIL1Times[c] != null) marker(p.x(aIL1Times[c]), 83, 97, 12, "#8c8c8c");
    }
    if (r === 3) label(left + 45.8, 864, "Time (min)", {size: 17, sx: 1.07, fill: "#222"});
  });
  label(71, y0 - 52.5, aDoses[r], {size: 15, sx: 1.12, rot: true, fill: "#333"});
});

// ---- panel b ----
label(8, 910, "b", {size: 37, bold: true, anchor: "start", fill: "#000"});
label(499, 916, "LPS timing", {size: 23, sx: 1.28, fill: "#222"});
label(69, 1095, "S1 IL-1 Dose", {size: 30, sx: 1.05, rot: true, fill: "#222"});

const bRows = [
  {red: bRed02, gray: bGray02, stim: bLPSTimes02, xd: [0, 180], left0: 161, step: 193.4, w: 146.3, y0: 1080, unit: 14.35},
  {red: bRed3, gray: bGray3, stim: bLPSTimes3, xd: [0, 200], left0: 167, step: 193.8, w: 147, y0: 1238, unit: 14.55}
];
bRows.forEach((row, r) => {
  const top = row.y0 - 7 * row.unit, bottom = row.y0;
  bTimings.forEach((head, c) => {
    const left = row.left0 + c * row.step;
    const p = plot({left, w: row.w, top, bottom, xd: row.xd, yd: [0, 7], xt: bXTicks, yt: bYTicks,
                    gray: row.gray[c], red: row.red[c], stim: row.stim[c], st: styleB});
    if (r === 0) {
      label(left + row.w / 2, 947, head, {size: 16.5, bold: true, sx: 1.22, fill: "#111"});
      if (row.stim[c] != null) marker(p.x(row.stim[c]), 957, 970, 12, "#8c8c8c");
    }
    if (r === 1) label(left + row.w / 2, 1290, "Time", {size: 21, sx: 1.07, fill: "#222"});
  });
  label(r === 0 ? 131 : 133, (top + bottom) / 2, bDoses[r], {size: 20, sx: 1.05, rot: true, fill: "#222"});
});

// ---- panels c and d ----
const cdPanels = [
  {letter: "c", lx: 26, ly: 1333, title: "Untreated", tx: 282, ty: 1318, red: cRed, gray: cGray,
   left0: 100, y0: 1545.7, ymin: -0.2, lpsEnd: 85, lpsY: 1355.5, unitEnd: 93, unitY: 1372, doseY: 1371.5,
   ilY: 1356, triTop: 1360, triTip: 1372, ylx: 80, yly: 1466, time: false},
  {letter: "d", lx: 477, ly: 1330, title: "+ 40uM PS1145", tx: 736, ty: 1333, red: dRed, gray: dGray,
   left0: 554, y0: 1539, ymin: -0.15, lpsEnd: 538, lpsY: 1351.5, unitEnd: 547, unitY: 1368, doseY: 1367,
   ilY: 1352, triTop: 1356.5, triTip: 1366.5, ylx: 535.5, yly: 1456, time: true}
];
cdPanels.forEach(P => {
  label(P.lx, P.ly, P.letter, {size: 36, bold: true, anchor: "start", fill: "#000"});
  label(P.tx, P.ty, P.title, {size: 15, bold: true, fill: "#111"});
  label(P.lpsEnd, P.lpsY, "LPS", {size: 14.5, bold: true, anchor: "end", fill: "#111"});
  label(P.unitEnd, P.unitY, "(ng/mL):", {size: 14.5, bold: true, anchor: "end", fill: "#111"});
  label(P.ylx, P.yly, "Nuc/cyto RelA", {size: 14, rot: true, fill: "#333"});
  const unit = 24.15;
  const top = P.y0 - 7 * unit, bottom = P.y0 - P.ymin * unit;
  cdDoses.forEach((dose, c) => {
    const left = P.left0 + c * 131.65;
    const p = plot({left, w: 100.1, top, bottom, xd: [0, 480], yd: [P.ymin, 7], xt: cdXTicks, yt: cdYTicks,
                    gray: P.gray[c], red: P.red[c], stim: cdIL1Time, st: styleCD});
    label(left + 1, P.doseY, dose, {size: 15.5, bold: true, anchor: "start", fill: "#111"});
    const tx = p.x(cdIL1Time);
    marker(tx, P.triTop, P.triTip, 10, "#000");
    label(tx - 4.5, P.ilY, "IL-1", {size: 15.5, bold: true, anchor: "start", fill: "#111"});
    if (P.time) label(left + 50, 1576, "Time (min)", {size: 14, sx: 1.05, fill: "#222"});
  });
});
</script>
</body>
</html>
